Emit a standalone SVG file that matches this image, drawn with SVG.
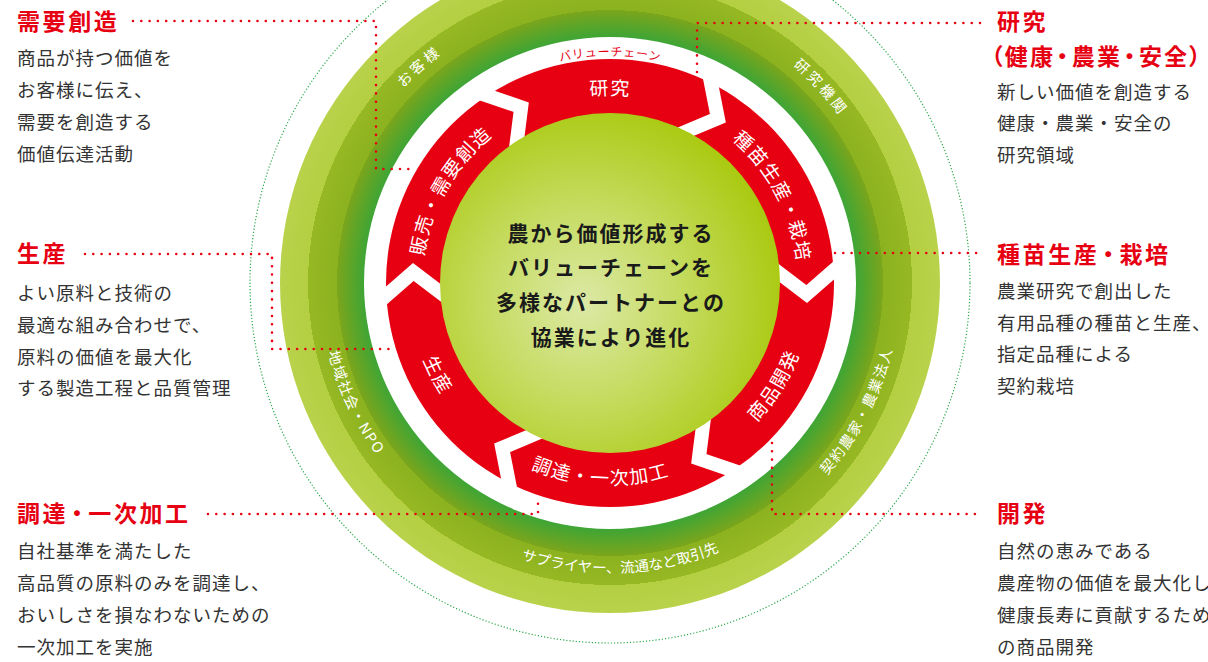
<svg xmlns="http://www.w3.org/2000/svg" xmlns:xlink="http://www.w3.org/1999/xlink" width="1208" height="662" viewBox="0 0 1208 662">
<style>
text{font-family:'Noto Sans CJK JP','Noto Sans',sans-serif}
.title{font-size:23px;font-weight:700;fill:#e60012;letter-spacing:2.6px;font-feature-settings:"palt"}
.body{font-size:18.5px;fill:#333;letter-spacing:1px}
.seg{font-size:19px;fill:#fff;letter-spacing:1.3px}
.outer{font-size:14.5px;fill:#fff}
.vc{font-size:12px;fill:#e60012;letter-spacing:0.7px}
.center{font-size:21px;font-weight:700;fill:#1a1a1a;letter-spacing:2px}
.chev{fill:none;stroke:#fff;stroke-width:14;stroke-linejoin:miter}
.lead{fill:none;stroke:#e60012;stroke-width:2.6;stroke-linecap:round;stroke-dasharray:0 8.3}
</style>
<defs>
<radialGradient id="gRing" cx="610" cy="283" r="330" gradientUnits="userSpaceOnUse">
<stop offset="0.74" stop-color="#3aa537"/>
<stop offset="0.827" stop-color="#7ba51c"/>
<stop offset="0.827" stop-color="#8bb21f"/>
<stop offset="0.915" stop-color="#96b823"/>
<stop offset="0.915" stop-color="#b4cf42"/>
<stop offset="1" stop-color="#b9d24b"/>
</radialGradient>
<radialGradient id="gCenter" cx="0.42" cy="0.56" r="0.62">
<stop offset="0" stop-color="#dce9a6"/>
<stop offset="0.5" stop-color="#c3da5a"/>
<stop offset="1" stop-color="#a8c80b"/>
</radialGradient>
<polyline id="chev" class="chev" points="585.75,45.9 621,86.3 590.25,126.8"/>
<path id="cwSeg" d="M610,471 A188,188 0 1 1 610,95 A188,188 0 1 1 610,471"/>
<path id="ccwSeg" d="M610,81 A202,202 0 1 0 610,485 A202,202 0 1 0 610,81"/>
<path id="cwOut" d="M610,567 A284,284 0 1 1 610,-1 A284,284 0 1 1 610,567"/>
<path id="ccwOut" d="M610,-7 A290,290 0 1 0 610,573 A290,290 0 1 0 610,-7"/>
<path id="cwVC" d="M610,510 A227,227 0 1 1 610,56 A227,227 0 1 1 610,510"/>
</defs>

<g id="rings">
<circle cx="610" cy="283" r="360" fill="none" stroke="#2aa84a" stroke-width="1.2" stroke-dasharray="1.2 2"/>
<circle cx="610" cy="283" r="330" fill="url(#gRing)"/>
<circle cx="610" cy="283" r="246" fill="#fff"/>
<circle cx="610" cy="283" r="224" fill="#e60012"/>
<use xlink:href="#chev" href="#chev" transform="rotate(30 610 283)"/>
<use xlink:href="#chev" href="#chev" transform="rotate(90 610 283)"/>
<use xlink:href="#chev" href="#chev" transform="rotate(150 610 283)"/>
<use xlink:href="#chev" href="#chev" transform="rotate(210 610 283)"/>
<use xlink:href="#chev" href="#chev" transform="rotate(270 610 283)"/>
<use xlink:href="#chev" href="#chev" transform="rotate(330 610 283)"/>
<text class="vc"><textPath xlink:href="#cwVC" href="#cwVC" startOffset="50%" text-anchor="middle">バリューチェーン</textPath></text>
</g>

<g id="partners">
<text class="outer" style="letter-spacing:3px"><textPath xlink:href="#cwOut" href="#cwOut" startOffset="38.5%" text-anchor="middle">お客様</textPath></text>
<text class="outer" style="letter-spacing:3px"><textPath xlink:href="#cwOut" href="#cwOut" startOffset="63.1%" text-anchor="middle">研究機関</textPath></text>
<text class="outer" style="letter-spacing:1.5px"><textPath xlink:href="#ccwOut" href="#ccwOut" startOffset="67.4%" text-anchor="middle">契約農家・農業法人</textPath></text>
<text class="outer" style="letter-spacing:0px"><textPath xlink:href="#ccwOut" href="#ccwOut" startOffset="50.6%" text-anchor="middle">サプライヤー、流通など取引先</textPath></text>
<text class="outer" style="letter-spacing:1.5px"><textPath xlink:href="#ccwOut" href="#ccwOut" startOffset="32%" text-anchor="middle">地域社会・NPO</textPath></text>
</g>

<g id="center">
<circle cx="610" cy="283" r="170" fill="url(#gCenter)"/>
<text class="center" x="611" y="241" text-anchor="middle">農から価値形成する</text>
<text class="center" x="611" y="275" text-anchor="middle">バリューチェーンを</text>
<text class="center" x="611" y="310" text-anchor="middle">多様なパートナーとの</text>
<text class="center" x="611" y="345" text-anchor="middle">協業により進化</text>
</g>

<g id="seg-research"><text class="seg"><textPath xlink:href="#cwSeg" href="#cwSeg" startOffset="50%" text-anchor="middle">研究</textPath></text></g>
<g id="seg-seed"><text class="seg"><textPath xlink:href="#cwSeg" href="#cwSeg" startOffset="67.2%" text-anchor="middle">種苗生産・栽培</textPath></text></g>
<g id="seg-develop"><text class="seg"><textPath xlink:href="#ccwSeg" href="#ccwSeg" startOffset="66.1%" text-anchor="middle">商品開発</textPath></text></g>
<g id="seg-procure"><text class="seg"><textPath xlink:href="#ccwSeg" href="#ccwSeg" startOffset="49.2%" text-anchor="middle">調達・一次加工</textPath></text></g>
<g id="seg-produce"><text class="seg"><textPath xlink:href="#ccwSeg" href="#ccwSeg" startOffset="32.8%" text-anchor="middle">生産</textPath></text></g>
<g id="seg-sales"><text class="seg"><textPath xlink:href="#cwSeg" href="#cwSeg" startOffset="33.3%" text-anchor="middle">販売・需要創造</textPath></text></g>

<g id="connectors">
<path class="lead" d="M133,21 H376 V169 H413"/>
<path class="lead" d="M697,72 V23 H982"/>
<path class="lead" d="M835,253 H982"/>
<path class="lead" d="M772,443 V514 H982"/>
<path class="lead" d="M85,254 H272 V349 H394"/>
<path class="lead" d="M208,514 H538 V498"/>
</g>

<g id="note-demand">
<text class="title" x="17" y="30">需要創造</text>
<text class="body" x="17" y="65">商品が持つ価値を</text>
<text class="body" x="17" y="97">お客様に伝え、</text>
<text class="body" x="17" y="129">需要を創造する</text>
<text class="body" x="17" y="161">価値伝達活動</text>
</g>
<g id="note-produce">
<text class="title" x="17" y="262">生産</text>
<text class="body" x="17" y="300">よい原料と技術の</text>
<text class="body" x="17" y="332">最適な組み合わせで、</text>
<text class="body" x="17" y="364">原料の価値を最大化</text>
<text class="body" x="17" y="395">する製造工程と品質管理</text>
</g>
<g id="note-procure">
<text class="title" x="17" y="521.5">調達<tspan dx="3">・</tspan><tspan dx="3">一次加工</tspan></text>
<text class="body" x="17" y="558">自社基準を満たした</text>
<text class="body" x="17" y="590">高品質の原料のみを調達し、</text>
<text class="body" x="17" y="622">おいしさを損なわないための</text>
<text class="body" x="17" y="654">一次加工を実施</text>
</g>
<g id="note-research">
<text class="title" x="997" y="30">研究</text>
<text class="title" x="991" y="65" style="letter-spacing:2.2px">（健康<tspan dx="1.5">・</tspan><tspan dx="1.5">農業</tspan><tspan dx="1.5">・</tspan><tspan dx="1.5">安全）</tspan></text>
<text class="body" x="997" y="98.5">新しい価値を創造する</text>
<text class="body" x="997" y="130">健康・農業・安全の</text>
<text class="body" x="997" y="161.5">研究領域</text>
</g>
<g id="note-seed">
<text class="title" x="997" y="263">種苗生産<tspan dx="3">・</tspan><tspan dx="3">栽培</tspan></text>
<text class="body" x="997" y="298">農業研究で創出した</text>
<text class="body" x="997" y="330">有用品種の種苗と生産、</text>
<text class="body" x="997" y="361">指定品種による</text>
<text class="body" x="997" y="393">契約栽培</text>
</g>
<g id="note-develop">
<text class="title" x="997" y="522">開発</text>
<text class="body" x="997" y="558">自然の恵みである</text>
<text class="body" x="997" y="590">農産物の価値を最大化し</text>
<text class="body" x="997" y="622">健康長寿に貢献するため</text>
<text class="body" x="997" y="654">の商品開発</text>
</g>
</svg>
